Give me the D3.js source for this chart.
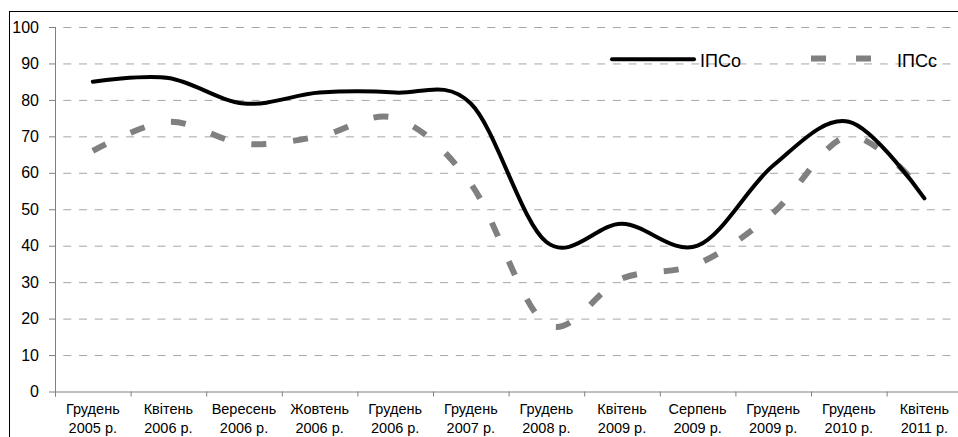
<!DOCTYPE html>
<html>
<head>
<meta charset="utf-8">
<script src="https://cdn.jsdelivr.net/npm/d3@7"></script>
<style>
  body { margin: 0; background: #fff; }
  svg { display: block; font-family: "Liberation Sans", Arial, sans-serif; }
  .grid line { stroke: #a6a6a6; stroke-dasharray: 8,7.7; stroke-dashoffset: 7.4; }
  .axis path, .axis line { stroke: #808080; }
  .axis text { fill: #000; }
</style>
</head>
<body>
<svg width="958" height="437"></svg>
<script>
var categories = ["Грудень 2005 р.", "Квітень 2006 р.", "Вересень 2006 р.", "Жовтень 2006 р.",
                  "Грудень 2006 р.", "Грудень 2007 р.", "Грудень 2008 р.", "Квітень 2009 р.",
                  "Серпень 2009 р.", "Грудень 2009 р.", "Грудень 2010 р.", "Квітень 2011 р."];
var ipsO = [85, 86, 79, 82, 82, 79, 41, 46, 40, 62, 74, 53];
var ipsS = [66, 74, 68, 70, 75, 57, 18.5, 31, 35, 49, 70, 54.5];
var seriesNames = ["ІПСо", "ІПСс"];
var yTicks = [0, 10, 20, 30, 40, 50, 60, 70, 80, 90, 100];

var svg = d3.select("svg"),
    pLeft = 55, pRight = 962.2, pTop = 27, pBottom = 391.5;

//outer frame (cropped at right/bottom like the picture)
svg.append("rect")
   .attr("x", 9.5).attr("y", 11.5)
   .attr("width", 1000).attr("height", 500)
   .attr("fill", "none").attr("stroke", "#000");

var x = d3.scaleBand()
          .domain(categories)
          .range([pLeft, pRight]);

var xi = d3.scaleLinear()
           .domain([0, categories.length])
           .range([pLeft, pRight]);

var y = d3.scaleLinear()
          .domain([0, 100])
          .range([pBottom, pTop]);

//grid
svg.append("g")
   .attr("class", "grid")
   .attr("transform", "translate(" + pLeft + ",0)")
   .call(d3.axisRight(y).tickValues(yTicks.slice(1)).tickSize(pRight - pLeft).tickFormat(""))
   .call(g => g.select(".domain").remove());

//y axis
svg.append("g")
   .attr("class", "axis")
   .attr("transform", "translate(" + pLeft + ",0)")
   .call(d3.axisLeft(y).tickValues(yTicks).tickSize(6).tickSizeOuter(0).tickPadding(10))
   .call(g => g.selectAll("text").style("font-size", "16px"))
   .call(g => g.select(".domain").attr("d", "M0.5," + pTop + "V" + (pBottom + 5)));

//x axis - boundary ticks
svg.append("g")
   .attr("class", "axis")
   .attr("transform", "translate(0," + pBottom + ")")
   .call(d3.axisBottom(xi).tickValues(d3.range(categories.length + 1)).tickSize(5).tickSizeOuter(0).tickFormat(""));

//x axis - labels
var xl = svg.append("g")
   .attr("class", "axis")
   .attr("transform", "translate(0," + pBottom + ")")
   .call(d3.axisBottom(x).tickSize(0).tickFormat(""));
xl.select(".domain").remove();
xl.selectAll(".tick").each(function(d) {
  var i = d.indexOf(" ");
  var t = d3.select(this).append("text")
            .attr("text-anchor", "middle")
            .style("font-size", "14.5px");
  t.append("tspan").attr("x", 0).attr("y", 22.5).text(d.slice(0, i));
  t.append("tspan").attr("x", 0).attr("y", 41).text(d.slice(i + 1));
});

//lines
var line = d3.line()
             .x((d, i) => x(categories[i]) + x.bandwidth() / 2)
             .y(d => y(d))
             .curve(d3.curveCardinal.tension(0));

svg.append("path")
   .datum(ipsS)
   .attr("d", line)
   .attr("fill", "none")
   .attr("stroke", "#808080")
   .attr("stroke-width", 6)
   .attr("stroke-dasharray", "15,27");

svg.append("path")
   .datum(ipsO)
   .attr("d", line)
   .attr("fill", "none")
   .attr("stroke", "#000")
   .attr("stroke-width", 4)
   .attr("stroke-linecap", "round");

//legend
var lg = svg.append("g");
lg.append("line")
  .attr("x1", 612).attr("x2", 694).attr("y1", 59.3).attr("y2", 59.3)
  .attr("stroke", "#000").attr("stroke-width", 4).attr("stroke-linecap", "round");
lg.append("text").attr("x", 700).attr("y", 66.5).style("font-size", "18px").text(seriesNames[0]);
lg.append("line")
  .attr("x1", 811).attr("x2", 871).attr("y1", 58.5).attr("y2", 58.5)
  .attr("stroke", "#808080").attr("stroke-width", 6).attr("stroke-dasharray", "15,30");
lg.append("text").attr("x", 897).attr("y", 66.5).style("font-size", "18px").text(seriesNames[1]);
</script>
</body>
</html>
